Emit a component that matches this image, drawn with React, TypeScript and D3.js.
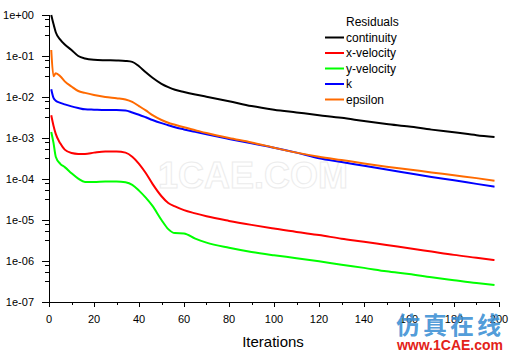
import * as d3 from 'd3';

const iterations = [1, 2, 3, 5, 7, 10, 13, 16, 20, 25, 30, 34, 37, 40, 43, 46, 50, 53, 56, 60, 65, 70, 80, 90, 100, 110, 120, 130, 140, 150, 160, 170, 180, 190, 198];

const continuity = [1.0, 6.0e-1, 3.8e-1, 2.5e-1, 1.9e-1, 1.4e-1, 1.0e-1, 8.7e-2, 8.1e-2, 7.9e-2, 7.8e-2, 7.6e-2, 7.2e-2, 5.6e-2, 4.0e-2, 2.95e-2, 2.1e-2, 1.74e-2, 1.5e-2, 1.32e-2, 1.15e-2, 1.02e-2, 7.9e-3, 6.0e-3, 4.9e-3, 4.2e-3, 3.6e-3, 3.1e-3, 2.6e-3, 2.2e-3, 1.9e-3, 1.6e-3, 1.38e-3, 1.17e-3, 1.05e-3];
const xVelocity = [3.6e-3, 2.0e-3, 1.26e-3, 7.4e-4, 5.2e-4, 4.3e-4, 4.1e-4, 4.1e-4, 4.4e-4, 4.7e-4, 4.7e-4, 4.4e-4, 3.5e-4, 2.35e-4, 1.4e-4, 7.6e-5, 3.8e-5, 2.6e-5, 2.15e-5, 1.74e-5, 1.45e-5, 1.23e-5, 9.5e-6, 7.6e-6, 6.2e-6, 5.1e-6, 4.3e-6, 3.5e-6, 2.95e-6, 2.45e-6, 2.05e-6, 1.7e-6, 1.41e-6, 1.2e-6, 1.05e-6];
const yVelocity = [1.4e-3, 7.6e-4, 3.5e-4, 2.35e-4, 1.95e-4, 1.38e-4, 1.02e-4, 8.5e-5, 8.5e-5, 8.7e-5, 8.7e-5, 8.3e-5, 7.2e-5, 5.2e-5, 3.5e-5, 2.2e-5, 1.0e-5, 6.0e-6, 4.8e-6, 4.7e-6, 3.5e-6, 2.8e-6, 2.1e-6, 1.66e-6, 1.38e-6, 1.17e-6, 9.8e-7, 8.1e-7, 6.8e-7, 5.6e-7, 4.8e-7, 4.0e-7, 3.4e-7, 2.9e-7, 2.6e-7];
const kValues = [1.55e-2, 9.5e-3, 8.1e-3, 7.2e-3, 6.6e-3, 5.9e-3, 5.4e-3, 5.0e-3, 4.9e-3, 4.8e-3, 4.8e-3, 4.7e-3, 4.2e-3, 3.7e-3, 3.2e-3, 2.75e-3, 2.3e-3, 2.05e-3, 1.82e-3, 1.62e-3, 1.41e-3, 1.23e-3, 9.5e-4, 7.4e-4, 5.8e-4, 4.4e-4, 3.2e-4, 2.6e-4, 2.1e-4, 1.7e-4, 1.38e-4, 1.12e-4, 9.3e-5, 7.6e-5, 6.5e-5];
const epsilon = [1.4e-1, 3.2e-2, 3.8e-2, 3.2e-2, 2.4e-2, 1.8e-2, 1.4e-2, 1.26e-2, 1.12e-2, 1.0e-2, 9.3e-3, 8.7e-3, 7.6e-3, 6.0e-3, 4.7e-3, 3.6e-3, 2.75e-3, 2.35e-3, 2.1e-3, 1.82e-3, 1.55e-3, 1.32e-3, 1.0e-3, 7.8e-4, 5.8e-4, 4.4e-4, 3.5e-4, 2.9e-4, 2.4e-4, 2.0e-4, 1.7e-4, 1.45e-4, 1.23e-4, 1.05e-4, 9.1e-5];

const seriesNames = ['continuity', 'x-velocity', 'y-velocity', 'k', 'epsilon'];
const seriesValues = [continuity, xVelocity, yVelocity, kValues, epsilon];
const seriesColors = ['#000000', '#ff0000', '#00ff00', '#0000ff', '#ff6a00'];

const yMajorTicks = [1, 1e-1, 1e-2, 1e-3, 1e-4, 1e-5, 1e-6, 1e-7];
const yTickLabels = ['1e+00', '1e-01', '1e-02', '1e-03', '1e-04', '1e-05', '1e-06', '1e-07'];
const yMinorFactors = [0.78, 0.55, 0.33];
const xMajorTicks = [0, 20, 40, 60, 80, 100, 120, 140, 160, 180, 200];
const xMinorTicks = [10, 30, 50, 70, 90, 110, 130, 150, 170, 190];

const font = '"Liberation Sans", Arial, sans-serif';

export default function App() {
  const width = 511;
  const height = 353;
  const x = d3.scaleLinear().domain([0, 200]).range([49, 499]);
  const y = d3.scaleLog().domain([1e-7, 1]).range([302, 15]);

  const line = d3.line<number>()
    .x((_, i) => x(iterations[i]))
    .y(d => y(d))
    .curve(d3.curveMonotoneX);

  const minorY = yMajorTicks.slice(0, -1).flatMap(t => yMinorFactors.map(f => t * f));

  return (
    <div style={{ position: 'absolute', left: 0, top: 0 }}>
      <svg width={width} height={height} style={{ display: 'block', background: '#fff' }} fontFamily={font}>
        {/* axes */}
        <g stroke="#000" strokeWidth={1} shapeRendering="crispEdges">
          <line x1={49.5} x2={49.5} y1={y(1)} y2={y(1e-7)} />
          <line x1={49} x2={x(200)} y1={302.5} y2={302.5} />
          {yMajorTicks.map(t => (
            <line key={`ym${t}`} x1={42} x2={49} y1={Math.round(y(t)) + 0.5} y2={Math.round(y(t)) + 0.5} />
          ))}
          {minorY.map(t => (
            <line key={`yn${t}`} x1={45} x2={49} y1={Math.round(y(t)) + 0.5} y2={Math.round(y(t)) + 0.5} />
          ))}
          {xMajorTicks.map(t => (
            <line key={`xm${t}`} x1={Math.round(x(t)) + 0.5} x2={Math.round(x(t)) + 0.5} y1={302} y2={307} />
          ))}
          {xMinorTicks.map(t => (
            <line key={`xn${t}`} x1={Math.round(x(t)) + 0.5} x2={Math.round(x(t)) + 0.5} y1={302} y2={305} />
          ))}
        </g>
        <g fontSize={11} fill="#000">
          {yMajorTicks.map((t, i) => (
            <text key={`yl${t}`} x={34} y={y(t)} dy="0.35em" textAnchor="end">{yTickLabels[i]}</text>
          ))}
          {xMajorTicks.map(t => (
            <text key={`xl${t}`} x={x(t)} y={319} dy="0.35em" textAnchor="middle">{t}</text>
          ))}
        </g>
        <text x={273} y={342} dy="0.35em" textAnchor="middle" fontSize={15}>Iterations</text>

        {/* watermark centre */}
        <text x={253} y={188} textAnchor="middle" fontSize={36} fontWeight="bold" fill="#ffffff" stroke="#ececec" strokeWidth={1}>1CAE.COM</text>

        {/* series */}
        <g fill="none" strokeWidth={2}>
          {seriesValues.map((vals, i) => (
            <path key={seriesNames[i]} d={line(vals) || ''} stroke={seriesColors[i]} />
          ))}
        </g>

        {/* legend */}
        <g fontSize={12} fill="#000">
          <text x={346} y={22} dy="0.35em">Residuals</text>
          {seriesNames.map((name, i) => (
            <g key={name} transform={`translate(0,${37.5 + i * 15.5})`}>
              <line x1={325} x2={344} y1={0} y2={0} stroke={seriesColors[i]} strokeWidth={2} />
              <text x={346} y={0} dy="0.35em">{name}</text>
            </g>
          ))}
        </g>

        {/* watermark bottom right */}
        <text x={450} y={334} textAnchor="middle" fontSize={24} fontWeight="bold" fill="#3b8fd4" fillOpacity={0.9} letterSpacing={3} fontFamily='"Noto Sans CJK SC", sans-serif'>仿真在线</text>
        <text x={450} y={350} textAnchor="middle" fontSize={14} fontWeight="bold" fill="#e32219">www.1CAE.com</text>
      </svg>
    </div>
  );
}
